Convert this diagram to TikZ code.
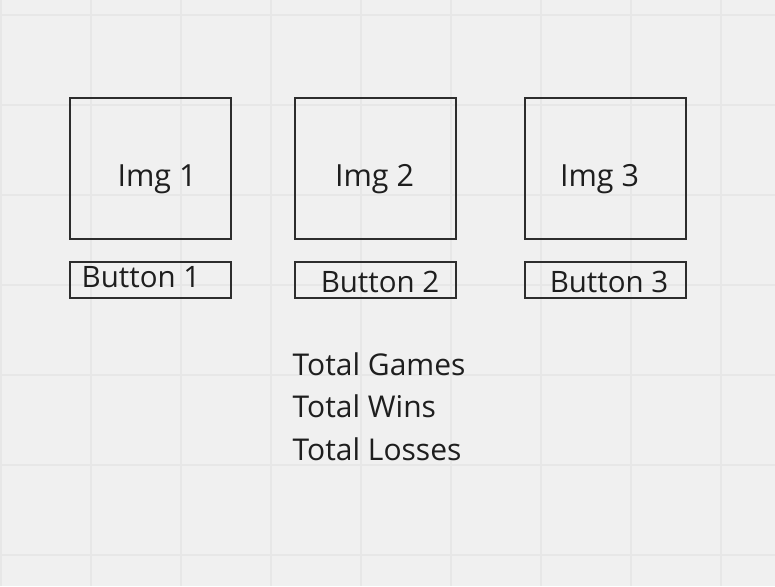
\documentclass[tikz,border=0pt]{standalone}
\usepackage{fontspec}
\setmainfont{Open Sans}
\usepackage{xcolor}
\usetikzlibrary{positioning}
\definecolor{boardbg}{RGB}{240,240,240}
\definecolor{gridgray}{RGB}{231,231,231}
\definecolor{inkgray}{RGB}{45,45,45}
\definecolor{textgray}{RGB}{30,30,30}

\begin{document}
\begin{tikzpicture}[x=1pt,y=-1pt,
    imgbox/.style={draw=inkgray,line width=2pt,minimum width=161pt,minimum height=141pt,inner sep=0pt},
    btnbox/.style={draw=inkgray,line width=2pt,minimum width=161pt,minimum height=36pt,inner sep=0pt},
    lbl/.style={text=textgray,font=\fontsize{30.5}{36}\selectfont,inner sep=0pt,anchor=base},
    stat/.style={text=textgray,font=\fontsize{30}{36}\selectfont,inner sep=0pt,anchor=base west}]
    % board background and grid
    \fill[boardbg] (0,0) rectangle (775,586);
    \useasboundingbox (0,0) rectangle (775,586);
    \foreach \x in {1,91,...,775}
        \draw[gridgray,line width=1.2pt] (\x,0) -- (\x,586);
    \foreach \y in {15,105,...,586}
        \draw[gridgray,line width=1.2pt] (0,\y) -- (775,\y);

    % image placeholders
    \node[imgbox] (img1) at (150,168) {};
    \node[imgbox] (img2) at (375.5,168) {};
    \node[imgbox] (img3) at (605.5,168) {};
    \node[lbl] (img1txt) at (157,186) {Img 1};
    \node[lbl] (img2txt) at (374.5,186) {Img 2};
    \node[lbl] (img3txt) at (599.5,186) {Img 3};

    % buttons
    \node[btnbox] (btn1) at (150,280) {};
    \node[btnbox] (btn2) at (375.5,280) {};
    \node[btnbox] (btn3) at (605.5,280) {};
    \node[lbl,font=\fontsize{29.5}{36}\selectfont] (btn1txt) at (141,287) {Button 1};
    \node[lbl,font=\fontsize{29.5}{36}\selectfont] (btn2txt) at (380,292) {Button 2};
    \node[lbl,font=\fontsize{29.5}{36}\selectfont] (btn3txt) at (609,292) {Button 3};

    % totals
    \node[stat] (games) at (292.5,375) {Total Games};
    \node[stat] (wins) at (292.5,417.5) {Total Wins};
    \node[stat] (losses) at (292.5,460) {Total Losses};
\end{tikzpicture}
\end{document}
